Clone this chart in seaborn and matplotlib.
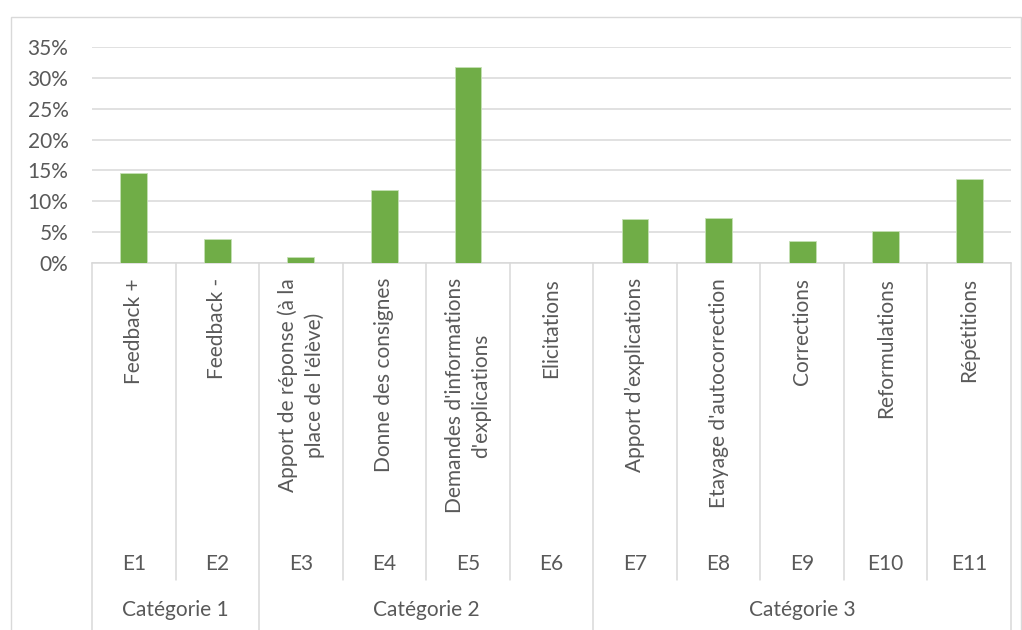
import matplotlib
matplotlib.use("Agg")
import matplotlib.pyplot as plt
import seaborn as sns
import pandas as pd
from matplotlib.ticker import PercentFormatter, MultipleLocator
from matplotlib.patches import Rectangle
from matplotlib.lines import Line2D

codes = ["E1", "E2", "E3", "E4", "E5", "E6", "E7", "E8", "E9", "E10", "E11"]
labels = ["Feedback +", "Feedback -",
          "Apport de réponse (à la\nplace de l'élève)",
          "Donne des consignes",
          "Demandes d'informations\nd'explications",
          "Elicitations", "Apport d’explications", "Etayage d'autocorrection",
          "Corrections", "Reformulations", "Répétitions"]
values = [14.6, 3.9, 0.9, 11.8, 31.8, 0.0, 7.1, 7.3, 3.6, 5.2, 13.6]
groups = ["Catégorie 1", "Catégorie 2", "Catégorie 3"]
group_sizes = [2, 4, 5]

sns.set_theme(style="white")
plt.rcParams['font.family'] = ['Lato', 'DejaVu Sans']

TXT = "#595959"
GRID = "#D9D9D9"
W, H = 1022, 630
FS = 15

fig = plt.figure(figsize=(W / 100, H / 100), dpi=100)
fig.patch.set_facecolor("white")

# chart border
fig.patches.append(Rectangle((11 / W, -0.02), 1010 / W, (H - 17) / H + 0.02,
                             transform=fig.transFigure, fill=False,
                             edgecolor=GRID, linewidth=1.0, zorder=0))

ax_l, ax_r, ax_b, ax_t = 92, 1011, 263, 47
ax = fig.add_axes([ax_l / W, (H - ax_b) / H, (ax_r - ax_l) / W, (ax_b - ax_t) / H])

df = pd.DataFrame({"code": codes, "value": values})
sns.barplot(data=df, x="code", y="value", color="#70AD47", saturation=1,
            width=0.32, edgecolor="#C5E0B4", linewidth=0.6, ax=ax, zorder=3)

ax.set_xlim(-0.5, len(codes) - 0.5)
ax.set_ylim(0, 35)
ax.yaxis.set_major_locator(MultipleLocator(5))
ax.yaxis.set_major_formatter(PercentFormatter(100, decimals=0))
ax.grid(axis="y", color=GRID, linewidth=1.1, zorder=0)
ax.set_axisbelow(True)
for s in ["top", "right", "left"]:
    ax.spines[s].set_visible(False)
ax.spines["bottom"].set_color(GRID)
ax.spines["bottom"].set_linewidth(1.1)
ax.tick_params(axis="y", length=0, pad=17, labelsize=FS, labelcolor=TXT)
ax.set_xticks([])
ax.set_xlabel("")
ax.set_ylabel("")

tr = ax.get_xaxis_transform()
ph = ax_b - ax_t


def fy(p):
    return (ax_b - p) / ph


# rotated labels and codes
for i, lab in enumerate(labels):
    ax.text(i, fy(278), lab, rotation=90, ha="center", va="top",
            multialignment="center", linespacing=1.4, fontsize=FS, color=TXT,
            transform=tr, clip_on=False)
    ax.text(i, fy(564), codes[i], ha="center", va="center", fontsize=FS,
            color=TXT, transform=tr, clip_on=False)

# separators
bounds = [-0.5]
for g in group_sizes:
    bounds.append(bounds[-1] + g)
for k in range(len(codes) + 1):
    x = k - 0.5
    y1 = fy(640) if x in bounds else fy(580)
    ax.add_line(Line2D([x, x], [0, y1], transform=tr, color=GRID,
                       linewidth=1.1, clip_on=False))

for gi, g in enumerate(groups):
    c = (bounds[gi] + bounds[gi + 1]) / 2
    ax.text(c, fy(610), g, ha="center", va="center", fontsize=FS,
            color=TXT, transform=tr, clip_on=False)

fig.savefig("out.png", dpi=100, facecolor="white")
